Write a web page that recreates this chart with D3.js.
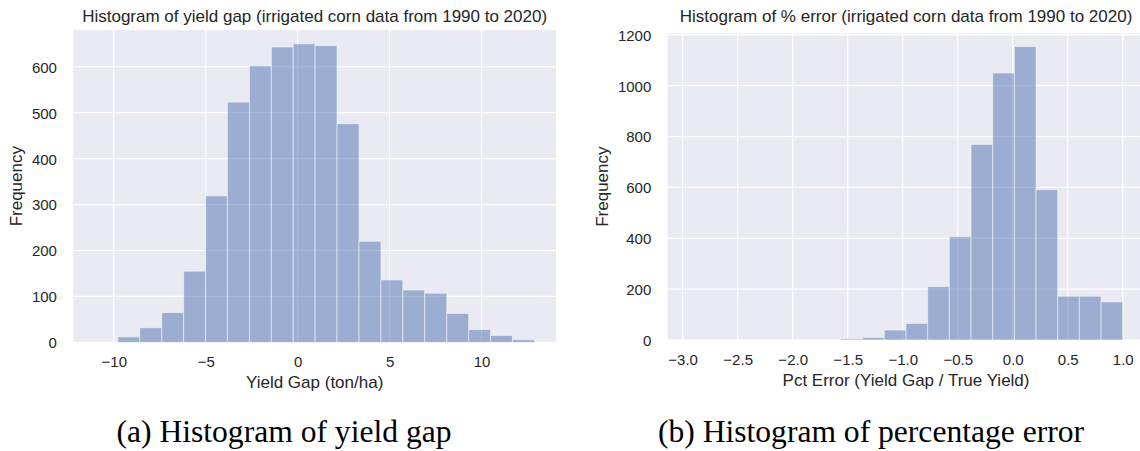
<!DOCTYPE html>
<html>
<head>
<meta charset="utf-8">
<script src="https://cdn.jsdelivr.net/npm/d3@7"></script>
<style>
  html, body { margin: 0; padding: 0; background: #ffffff; }
  svg { display: block; }
</style>
</head>
<body>
<svg id="chart" width="1140" height="451"></svg>
<script>
// ---- Data ----
const yieldEdges = [-10.97, -9.78, -8.59, -7.39, -6.20, -5.01, -3.82, -2.62, -1.43, -0.24, 0.95, 2.14, 3.34, 4.53, 5.72, 6.91, 8.11, 9.30, 10.49, 11.68, 12.87];
const yieldCounts = [0, 12, 32, 65, 155, 319, 523, 602, 643, 650, 646, 476, 220, 136, 114, 107, 63, 28, 15, 6];
const yieldTicksX = [-10, -5, 0, 5, 10];
const yieldTicksY = [0, 100, 200, 300, 400, 500, 600];

const pctEdges = [-2.94, -2.743, -2.546, -2.349, -2.152, -1.955, -1.758, -1.561, -1.364, -1.167, -0.970, -0.773, -0.576, -0.379, -0.182, 0.015, 0.212, 0.409, 0.606, 0.803, 1.0];
const pctCounts = [0, 0, 0, 0, 0, 0, 0, 5, 10, 39, 65, 210, 406, 769, 1050, 1154, 591, 172, 172, 150];
const pctTicksX = [-3.0, -2.5, -2.0, -1.5, -1.0, -0.5, 0.0, 0.5, 1.0];
const pctTicksY = [0, 200, 400, 600, 800, 1000, 1200];

const panels = [
  {
    title: "Histogram of yield gap (irrigated corn data from 1990 to 2020)",
    xLabel: "Yield Gap (ton/ha)",
    yLabel: "Frequency",
    caption: "(a) Histogram of yield gap",
    edges: yieldEdges, counts: yieldCounts,
    ticksX: yieldTicksX, ticksY: yieldTicksY,
    xDomain: [-12.2, 14.05], yDomain: [0, 680],
    left: 73.3, right: 556, top: 30, bottom: 342.4,
    xFmt: d3.format("d"),
    yLabelX: 22, captionX: 284, captionW: 335
  },
  {
    title: "Histogram of % error (irrigated corn data from 1990 to 2020)",
    xLabel: "Pct Error (Yield Gap / True Yield)",
    yLabel: "Frequency",
    caption: "(b) Histogram of percentage error",
    edges: pctEdges, counts: pctCounts,
    ticksX: pctTicksX, ticksY: pctTicksY,
    xDomain: [-3.136, 1.197], yDomain: [0, 1206],
    left: 667.7, right: 1144.4, top: 33.3, bottom: 340,
    xFmt: d3.format(".1f"),
    yLabelX: 608, captionX: 871, captionW: 426
  }
];

const svg = d3.select("#chart");
const FONT = "'Liberation Sans', Arial, Helvetica, sans-serif";
const TXT = "#262626";

panels.forEach(p => {
  const x = d3.scaleLinear().domain(p.xDomain).range([p.left, p.right]);
  const y = d3.scaleLinear().domain(p.yDomain).range([p.bottom, p.top]);
  const g = svg.append("g");

  // background
  g.append("rect")
    .attr("x", p.left).attr("y", p.top)
    .attr("width", p.right - p.left).attr("height", p.bottom - p.top)
    .attr("fill", "#EAEAF2");

  // grid
  g.selectAll(".gx").data(p.ticksX).join("line")
    .attr("x1", d => x(d)).attr("x2", d => x(d))
    .attr("y1", p.top).attr("y2", p.bottom)
    .attr("stroke", "#ffffff").attr("stroke-width", 1.2);
  g.selectAll(".gy").data(p.ticksY).join("line")
    .attr("x1", p.left).attr("x2", p.right)
    .attr("y1", d => y(d)).attr("y2", d => y(d))
    .attr("stroke", "#ffffff").attr("stroke-width", 1.2);

  // bars
  const bins = p.counts.map((c, i) => ({ x0: p.edges[i], x1: p.edges[i + 1], c }))
    .filter(d => d.c > 0);
  g.selectAll(".bar").data(bins).join("rect")
    .attr("x", d => x(d.x0))
    .attr("width", d => x(d.x1) - x(d.x0))
    .attr("y", d => y(d.c))
    .attr("height", d => y(0) - y(d.c))
    .attr("fill", "#4C72B0").attr("fill-opacity", 0.5)
    .attr("stroke", "#ffffff").attr("stroke-opacity", 0.5).attr("stroke-width", 1);

  // x axis
  const xAxis = d3.axisBottom(x).tickValues(p.ticksX).tickSize(0).tickPadding(0)
    .tickFormat(d => p.xFmt(d).replace("-", "\u2212"));
  const gx = g.append("g").attr("transform", `translate(0,${p.bottom})`).call(xAxis);
  gx.select(".domain").remove();
  gx.selectAll("text").attr("dy", null).attr("y", 25)
    .attr("font-family", FONT).attr("font-size", 15).attr("fill", TXT);

  // y axis
  const yAxis = d3.axisLeft(y).tickValues(p.ticksY).tickSize(0).tickPadding(16.4)
    .tickFormat(d3.format("d"));
  const gy = g.append("g").attr("transform", `translate(${p.left},0)`).call(yAxis);
  gy.select(".domain").remove();
  gy.selectAll("text").attr("dy", "0.36em")
    .attr("font-family", FONT).attr("font-size", 15).attr("fill", TXT);

  const cx = (p.left + p.right) / 2;
  // title
  g.append("text").attr("x", cx).attr("y", 21.5).attr("text-anchor", "middle")
    .attr("font-family", FONT).attr("font-size", 17).attr("fill", TXT).text(p.title);
  // x label
  g.append("text").attr("x", cx).attr("y", p.bottom + 45.5).attr("text-anchor", "middle")
    .attr("font-family", FONT).attr("font-size", 17).attr("fill", TXT).text(p.xLabel);
  // y label
  g.append("text")
    .attr("transform", `translate(${p.yLabelX},${(p.top + p.bottom) / 2}) rotate(-90)`)
    .attr("text-anchor", "middle")
    .attr("font-family", FONT).attr("font-size", 17).attr("fill", TXT).text(p.yLabel);
  // caption
  g.append("text").attr("x", p.captionX).attr("y", 442).attr("text-anchor", "middle")
    .attr("font-family", "'Liberation Serif', 'Times New Roman', serif").attr("font-size", 31)
    .attr("textLength", p.captionW).attr("lengthAdjust", "spacingAndGlyphs")
    .attr("fill", "#000").text(p.caption);
});
</script>
</body>
</html>
